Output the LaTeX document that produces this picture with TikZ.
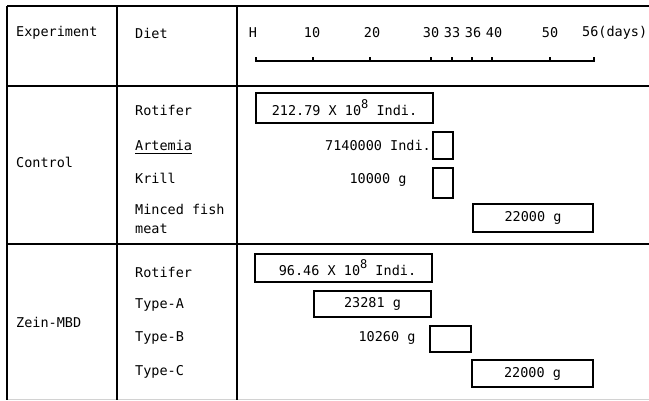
\documentclass[tikz,border=0pt]{standalone}
\usepackage{fontspec}
\setmonofont{DejaVu Sans Mono}
\begin{document}
\begin{tikzpicture}[x=1pt,y=-1pt,
  txt/.style={font=\ttfamily\fontsize{13.5}{19}\selectfont, inner sep=0pt},
  tbl/.style={line width=1.1pt},
  bar/.style={draw, line width=1.5pt, inner sep=0pt, font=\ttfamily\fontsize{13.5}{15}\selectfont},
  dayrule/.style={line width=1.4pt},
]
\useasboundingbox (0,0) rectangle (649,400);
% table rules
\draw[tbl] (7,6) -- (649,6);
\draw[tbl] (7,86) -- (649,86);
\draw[tbl] (7,244) -- (649,244);
\draw[gray!35, line width=0.8pt] (7,399) -- (649,399);
\draw[tbl] (7,6) -- (7,400);
\draw[tbl] (117,6) -- (117,400);
\draw[tbl] (237,6) -- (237,400);

% header
\node[txt, anchor=west] (hexp) at (16,33) {Experiment};
\node[txt, anchor=west] (hdiet) at (135,33) {Diet};
\node[txt] (dH) at (253,33) {H};
\node[txt] (d10) at (312,33) {10};
\node[txt] (d20) at (372,33) {20};
\node[txt] (d30) at (431,33) {30};
\node[txt] (d33) at (452,33) {33};
\node[txt] (d36) at (473,33) {36};
\node[txt] (d40) at (494,33) {40};
\node[txt] (d50) at (550,33) {50};
\node[txt, anchor=west] (d56) at (582,33) {56(days)};

% time scale
\draw[dayrule] (256,61) -- (594,61);
\foreach \x in {256,313,370,431,452,472,492,550,594}
  \draw[dayrule] (\x,61.7) -- (\x,57);

% experiment labels
\node[txt, anchor=west] (ctrl) at (16,162) {Control};
\node[txt, anchor=west] (zein) at (16,322) {Zein-MBD};

% diets - control
\node[txt, anchor=west] (crotl) at (135,110) {Rotifer};
\node[txt, anchor=west] (cart) at (135,145) {Artemia};
\draw[line width=0.9pt] ([yshift=-3pt]cart.south west) -- ([yshift=-3pt]cart.south east);
\node[txt, anchor=west] (ckri) at (135,178) {Krill};
\node[txt, anchor=west, align=left] (cmin) at (135,219) {Minced fish\\meat};

% diets - zein
\node[txt, anchor=west] (zrotl) at (135,272) {Rotifer};
\node[txt, anchor=west] (zta) at (135,305) {Type-A};
\node[txt, anchor=west] (ztb) at (135,338) {Type-B};
\node[txt, anchor=west] (ztc) at (135,372) {Type-C};

% bars - control
\node[bar, minimum width=177pt, minimum height=30pt] (crot) at (344.5,108)
  {212.79 X 10\raisebox{7pt}{\fontsize{12}{12}\selectfont 8} Indi.};
\node[bar, minimum width=20pt, minimum height=27pt] (cartb) at (443,145.5) {};
\node[txt, anchor=east] (cartt) at (431,145) {7140000 Indi.};
\node[bar, minimum width=20pt, minimum height=30pt] (ckrib) at (443,183) {};
\node[txt] (ckrit) at (378,180) {10000 g};
\node[bar, minimum width=120pt, minimum height=28pt] (cminb) at (533,218) {22000 g\hspace{6pt}};

% bars - zein
\node[bar, minimum width=177pt, minimum height=28pt] (zrot) at (343.5,268)
  {\hspace{8pt}96.46 X 10\raisebox{7pt}{\fontsize{12}{12}\selectfont 8} Indi.};
\node[bar, minimum width=117pt, minimum height=26pt] (ztab) at (372.5,304) {23281 g\hspace{10pt}};
\node[bar, minimum width=41pt, minimum height=26pt] (ztbb) at (450.5,339) {};
\node[txt] (ztbt) at (387,338) {10260 g};
\node[bar, minimum width=121pt, minimum height=27pt] (ztcb) at (532.5,373.5) {22000 g\hspace{6pt}};
\end{tikzpicture}
\end{document}
